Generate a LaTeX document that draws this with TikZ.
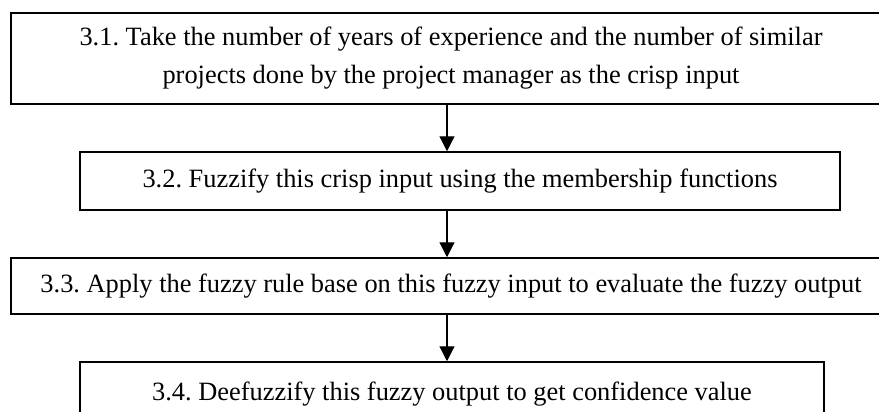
\documentclass[tikz,border=0pt]{standalone}
\usepackage{fontspec}
\setmainfont{Liberation Serif}
\usetikzlibrary{arrows.meta}
\frenchspacing
\begin{document}
\begin{tikzpicture}[x=1pt,y=-1pt,
  stepbox/.style={draw=black,line width=1.5pt,fill=white,inner sep=0pt,align=center,
    font=\fontsize{26.4}{38}\selectfont\frenchspacing},
  flow/.style={line width=1.2pt,-{Triangle[length=15pt,width=15pt]}}]
\useasboundingbox (0,0) rectangle (879,412);
\clip (0,0) rectangle (879,412);
\coordinate (ax) at (447,0);
\node[stepbox,minimum width=880pt,minimum height=91pt] (b1) at (451,58.5)
  {3.1. Take the number of years of experience and the number of similar\\projects done by the project manager as the crisp input};
\node[stepbox,minimum width=760pt,minimum height=58pt] (b2) at (460,181)
  {3.2. Fuzzify this crisp input using the membership functions};
\node[stepbox,minimum width=880pt,minimum height=56pt] (b3) at (451,286)
  {3.3. Apply the fuzzy rule base on this fuzzy input to evaluate the fuzzy output};
\node[stepbox,minimum width=744pt,minimum height=64pt] (b4) at (452,394)
  {3.4. Deefuzzify this fuzzy output to get confidence value};
\draw[flow] (ax |- b1.south) -- (ax |- b2.north);
\draw[flow] (ax |- b2.south) -- (ax |- b3.north);
\draw[flow] (ax |- b3.south) -- (ax |- b4.north);
\end{tikzpicture}
\end{document}
